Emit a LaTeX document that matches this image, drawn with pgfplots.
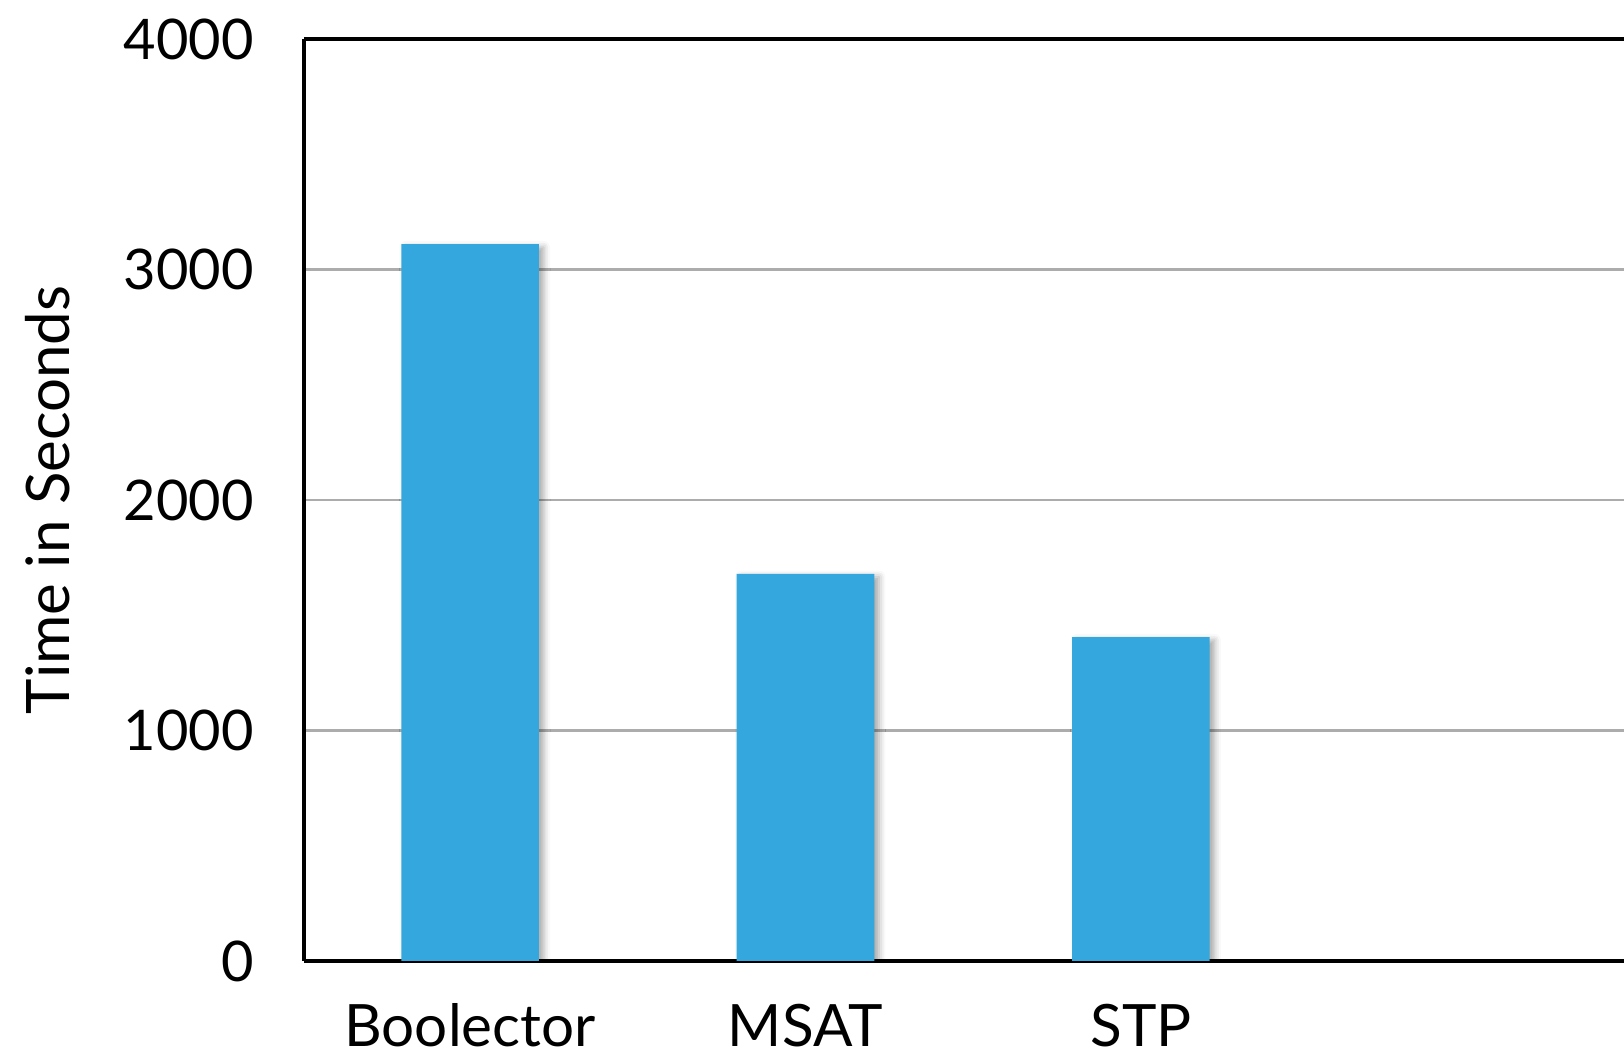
\documentclass[border=0pt]{standalone}
\usepackage{pgfplots}
\pgfplotsset{compat=1.18}
\usepackage{fontspec}
\setmainfont{Lato}
\usetikzlibrary{shadows.blur}
\definecolor{barblue}{RGB}{52,168,222}
\definecolor{gridgray}{RGB}{172,172,172}

\begin{document}
\begin{tikzpicture}
\begin{axis}[
  name=ax,
  scale only axis,
  width=330pt, height=230.5pt,
  xmin=-0.495, xmax=3.44,
  ymin=0, ymax=4000,
  axis x line*=bottom,
  axis y line*=left,
  axis line style={black, line width=0.8pt},
  xtick={0,1,2},
  xticklabels={Boolector,MSAT,STP},
  ytick={0,1000,2000,3000},
  extra y ticks={4000},
  extra y tick style={grid style={black, line width=0.8pt}},
  ymajorgrids,
  grid style={gridgray, line width=0.55pt},
  major tick length=0pt,
  tick label style={font=\fontsize{14}{16}\selectfont},
  yticklabel style={xshift=-9pt},
  xticklabel style={yshift=-7.2pt, font=\fontsize{14.6}{16}\selectfont},
  /pgf/number format/assume math mode=true,
  /pgf/number format/1000 sep={},
  scaled y ticks=false,
  ylabel={Time in Seconds},
  ylabel style={font=\fontsize{15}{17}\selectfont,
    at={(axis description cs:-0.194,0.5)}, anchor=center},
  ybar, bar width=0.41,
]
\addplot[fill=barblue, draw=none,
  blur shadow={shadow xshift=1.2pt, shadow yshift=-0.8pt,
    shadow blur radius=1.6pt, shadow opacity=35}]
  coordinates {(0,3110) (1,1680) (2,1405)};
\end{axis}
\pgfresetboundingbox
\path[use as bounding box]
  ([shift={(-76pt,-24pt)}]ax.south west) rectangle
  ([shift={(330pt,240.25pt)}]ax.south west);
\end{tikzpicture}
\end{document}
